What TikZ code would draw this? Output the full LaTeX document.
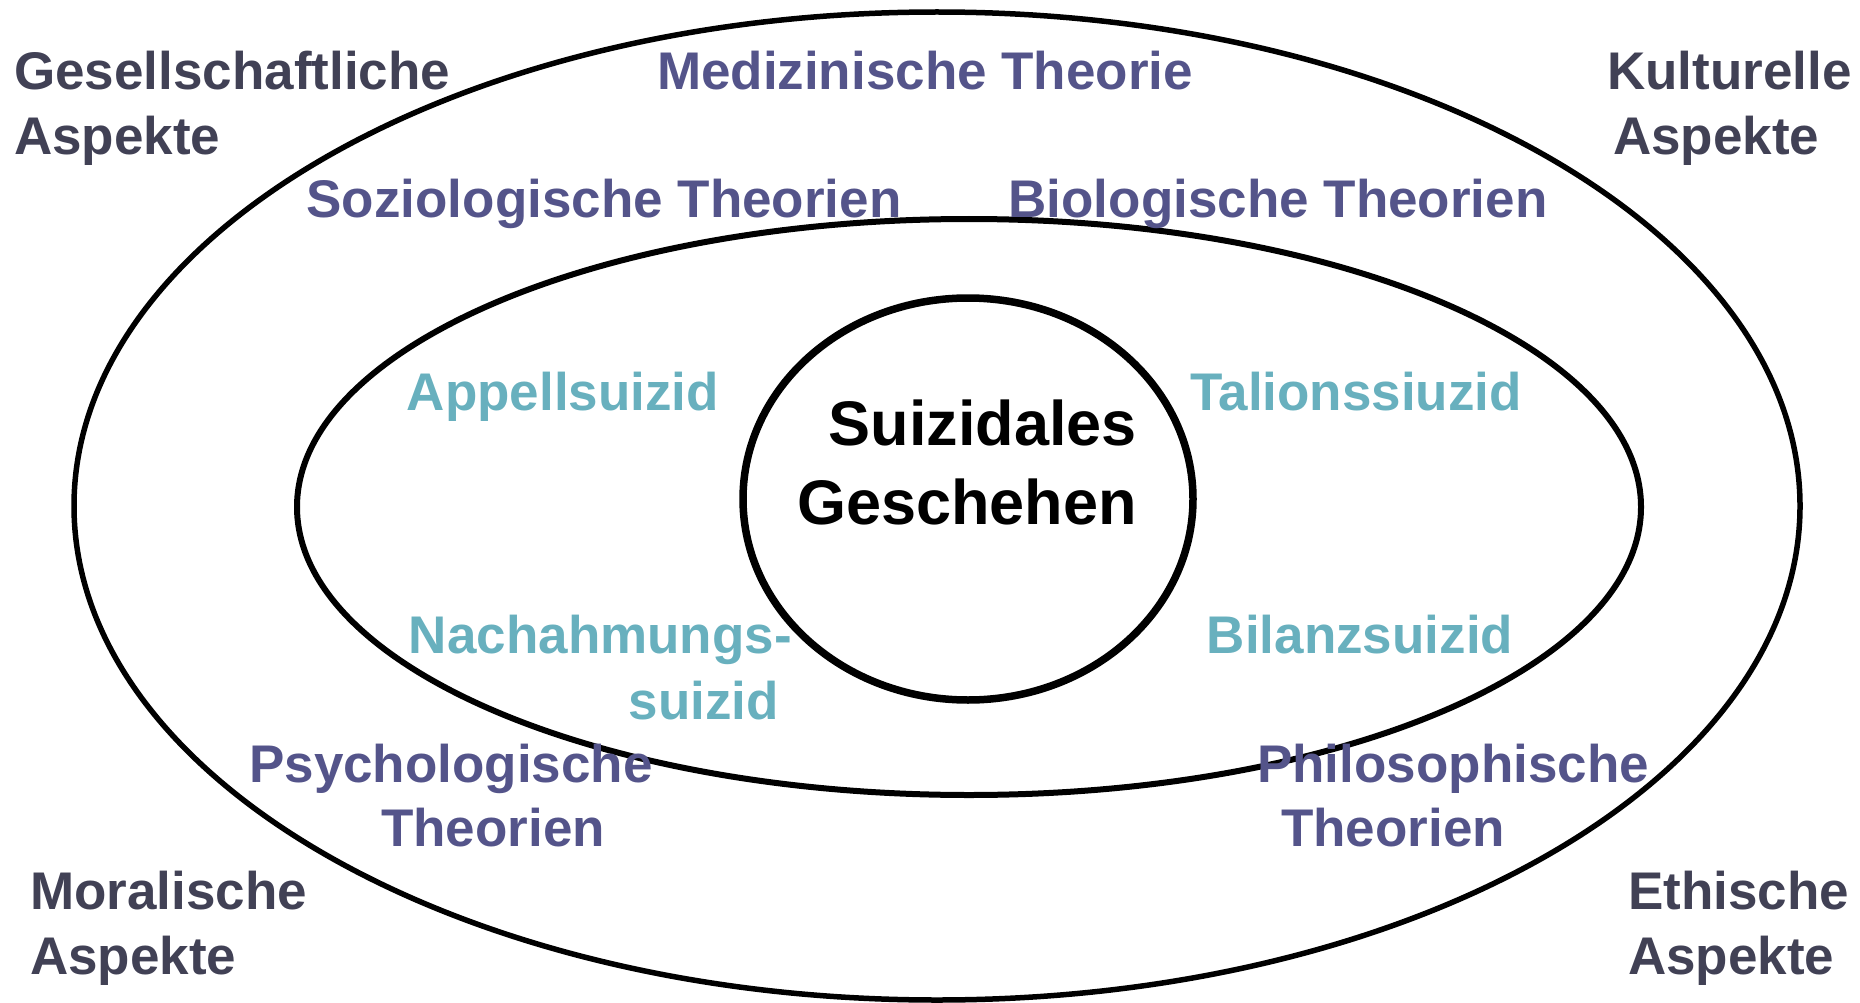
\documentclass[tikz,border=0pt]{standalone}
\usepackage{fontspec}
\setmainfont{Liberation Sans}
\usetikzlibrary{shapes.geometric}
\definecolor{aspc}{RGB}{65,65,85}
\definecolor{theoc}{RGB}{84,84,138}
\definecolor{suic}{RGB}{104,176,190}
\tikzset{
  ring/.style={draw=black, ellipse, inner sep=0pt, line width=5.5pt},
  lbl/.style={inner sep=0pt, font=\bfseries\fontsize{53}{65}\selectfont},
  asp/.style={lbl, text=aspc},
  theo/.style={lbl, text=theoc},
  sui/.style={lbl, text=suic},
  core/.style={inner sep=0pt, font=\bfseries\fontsize{63}{78}\selectfont, text=black}
}
\begin{document}
\begin{tikzpicture}[x=1pt,y=-1pt]
\useasboundingbox (0,0) rectangle (1860,1003);
\node[ring, minimum width=1726pt, minimum height=988pt] (outer) at (937,506) {};
\node[ring, line width=6pt, minimum width=1344pt, minimum height=576pt] (inner) at (969,507) {};
\node[ring, line width=7.5pt, minimum width=450pt, minimum height=402pt] (core) at (968,499) {};

\node[asp, anchor=base west] (gA1) at (14,90) {Gesellschaftliche};
\node[asp, anchor=base west] (gA2) at (14,155) {Aspekte};
\node[theo, anchor=base] (med) at (925,90) {Medizinische Theorie};
\node[asp, anchor=base west] (kA1) at (1607,90) {Kulturelle};
\node[asp, anchor=base west] (kA2) at (1613,155) {Aspekte};
\node[theo, anchor=base] (soz) at (604,218) {Soziologische Theorien};
\node[theo, anchor=base] (bio) at (1278,218) {Biologische Theorien};
\node[sui, anchor=base] (app) at (563,410) {Appellsuizid};
\node[sui, anchor=base] (tal) at (1356,410) {Talionssiuzid};
\node[core, anchor=base east] (sg1) at (1137,445) {Suizidales};
\node[core, anchor=base east] (sg2) at (1137,524) {Geschehen};
\node[sui, anchor=base east] (nach1) at (792,653) {Nachahmungs-};
\node[sui, anchor=base east] (nach2) at (779,719) {suizid};
\node[sui, anchor=base] (bil) at (1360,653) {Bilanzsuizid};
\node[theo, anchor=base west] (psy1) at (249,782) {Psychologische};
\node[theo, anchor=base west] (psy2) at (381,846) {Theorien};
\node[theo, anchor=base west] (phi1) at (1257,782) {Philosophische};
\node[theo, anchor=base west] (phi2) at (1281,846) {Theorien};
\node[asp, anchor=base west] (mor1) at (30,909) {Moralische};
\node[asp, anchor=base west] (mor2) at (30,974) {Aspekte};
\node[asp, anchor=base west] (eth1) at (1628,909) {Ethische};
\node[asp, anchor=base west] (eth2) at (1628,974) {Aspekte};
\end{tikzpicture}
\end{document}
